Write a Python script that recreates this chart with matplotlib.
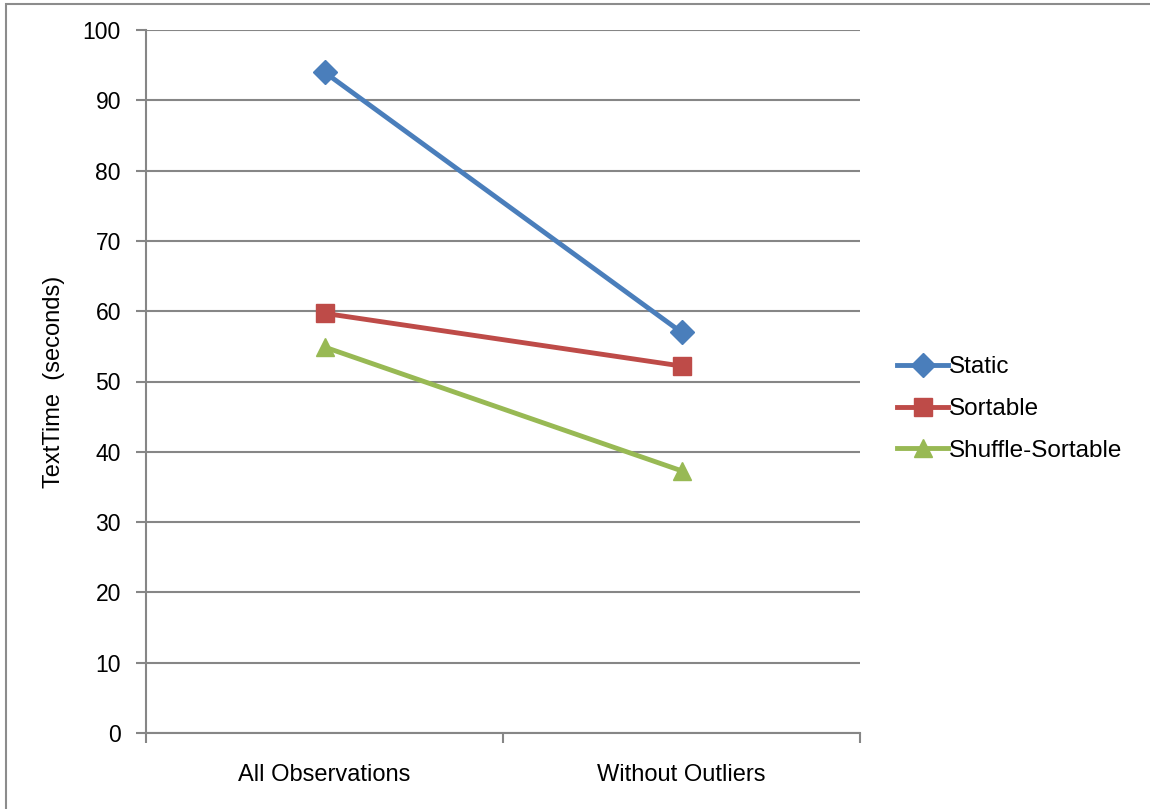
import matplotlib
matplotlib.use("Agg")
import matplotlib.pyplot as plt
from matplotlib.patches import Rectangle

categories = ["All Observations", "Without Outliers"]
static = [94.0, 57.0]
sortable = [59.7, 52.2]
shuffle_sortable = [54.9, 37.3]
y_ticks = list(range(0, 101, 10))

plt.rcParams['font.family'] = ['Liberation Sans', 'DejaVu Sans']

fig = plt.figure(figsize=(11.5, 8.09), dpi=100)
fig.patches.append(Rectangle((6 / 1150, -0.01), 1.2, 1 - 4 / 809 + 0.01,
                             transform=fig.transFigure, fill=False,
                             edgecolor="#8c8c8c", linewidth=1.5))
ax = fig.add_axes([146 / 1150, 1 - 733 / 809, (860 - 146) / 1150, (733 - 30) / 809])

x = [0.5, 1.5]
grid_c = "#868686"
fs = 16.5
ax.plot(x, static, color="#4a7ebb", lw=3.5, marker="D", ms=12, label="Static", zorder=3)
ax.plot(x, sortable, color="#be4b48", lw=3.5, marker="s", ms=12.5, label="Sortable", zorder=3)
ax.plot(x, shuffle_sortable, color="#98b954", lw=3.5, marker="^", ms=13, label="Shuffle-Sortable", zorder=3)

ax.set_xlim(0, 2)
ax.set_ylim(0, 100)
ax.set_yticks(y_ticks)
ax.set_xticks([0, 1, 2])
ax.set_xticklabels([])
ax.set_xticks(x, minor=True)
ax.set_xticklabels(categories, minor=True)
ax.tick_params(axis="x", which="minor", length=0, labelsize=fs + 0.5, pad=22)
ax.tick_params(axis="x", which="major", direction="out", length=7, color=grid_c, width=1.5)
ax.tick_params(axis="y", direction="out", length=7, color=grid_c, width=1.5, labelsize=fs, pad=11)
ax.yaxis.grid(True, color=grid_c, lw=1.5)
ax.set_axisbelow(True)
for s in ["top", "right"]:
    ax.spines[s].set_visible(False)
for s in ["left", "bottom"]:
    ax.spines[s].set_color(grid_c)
    ax.spines[s].set_linewidth(1.5)

ax.set_ylabel("TextTime  (seconds)", fontsize=fs + 0.5)
ax.yaxis.set_label_coords(-0.113, 0.5)

leg = ax.legend(loc="center left", bbox_to_anchor=((897 - 146) / 714, (733 - 409) / 703),
                frameon=False, fontsize=fs + 1, handlelength=2.1, handletextpad=0.05,
                labelspacing=0.82, borderaxespad=0, borderpad=0)

fig.savefig("out.png", dpi=100)
